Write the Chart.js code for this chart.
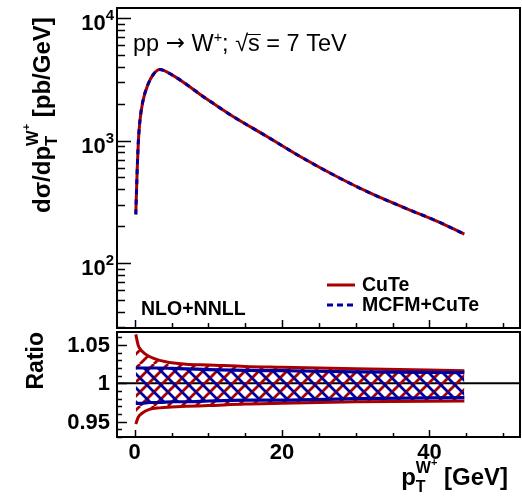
<!DOCTYPE html>
<html><head><meta charset="utf-8">
<script src="https://cdn.jsdelivr.net/npm/chart.js@4.4.0/dist/chart.umd.min.js"></script>
<style>html,body{margin:0;padding:0;background:#fff;}#wrap{position:relative;width:522px;height:504px;}canvas{position:absolute;left:0;top:0;}</style>
</head><body><div id="wrap"><canvas id="topc" width="522" height="504"></canvas><canvas id="botc" width="522" height="504"></canvas></div>
<script>
// ---- data ----
const pT        = [0.15, 0.35, 0.5, 0.7, 1.1, 1.8, 2.5, 3.4, 5, 7.7, 8.8, 11, 13.3, 17.9, 22.4, 27.8, 32.3, 36.8, 41.4, 44.75];
const cuteXsec  = [250, 600, 990, 1430, 2080, 2870, 3450, 3800, 3460, 2690, 2400, 1950, 1580, 1085, 745, 495, 365, 280, 215, 172];
const mcfmXsec  = [250, 600, 990, 1430, 2080, 2870, 3450, 3800, 3460, 2690, 2400, 1950, 1580, 1085, 745, 495, 365, 280, 215, 172];
const ratioPT   = [0.15, 0.5, 1, 2, 3.4, 5, 7, 10, 15, 20, 30, 44.75];
const cuteUp    = [1.064, 1.049, 1.042, 1.035, 1.030, 1.027, 1.025, 1.024, 1.022, 1.021, 1.019, 1.0165];
const cuteLow   = [0.947, 0.956, 0.961, 0.966, 0.968, 0.969, 0.970, 0.971, 0.973, 0.974, 0.976, 0.977];
const mcfmUp    = [1.020, 1.020, 1.020, 1.020, 1.020, 1.0195, 1.019, 1.018, 1.017, 1.0165, 1.015, 1.014];
const mcfmLow   = [0.974, 0.974, 0.974, 0.975, 0.975, 0.976, 0.976, 0.977, 0.978, 0.978, 0.980, 0.9815];
const logTickExponents = [2, 3, 4];
const ratioTickLabels  = ['0.95', '1', '1.05'];
const xTickLabels      = ['0', '20', '40'];
const seriesNames      = ['CuTe', 'MCFM+CuTe'];

const RED = '#a80000', BLUE = '#0000a0';
const FF = '"Liberation Sans", Arial, Helvetica, sans-serif';
function font(s, b, ff){ return (b ? 'bold ' : '') + s + 'px ' + (ff || FF); }

function hatch(color, dir, sp, lw){
  const c = document.createElement('canvas'); c.width = sp; c.height = sp;
  const g = c.getContext('2d'); g.strokeStyle = color; g.lineWidth = lw; g.beginPath();
  for (let k = -1; k <= 1; k++){
    if (dir > 0){ g.moveTo(k*sp, sp); g.lineTo(k*sp+sp, 0); }
    else { g.moveTo(k*sp, 0); g.lineTo(k*sp+sp, sp); }
  }
  g.stroke();
  return g.createPattern(c, 'repeat');
}

function richWidth(ctx, parts){
  let w = 0; for (const p of parts){ ctx.font = font(p.s, p.b !== false, p.ff); if (!p.noAdv) w += ctx.measureText(p.t).width; } return w;
}
function drawRich(ctx, x, y, parts){
  let cx = x; const pos = [];
  for (const p of parts){
    ctx.font = font(p.s, p.b !== false, p.ff);
    ctx.fillText(p.t, cx, y + (p.dy || 0));
    const w = ctx.measureText(p.t).width;
    pos.push([cx, cx + w]);
    if (!p.noAdv) cx += w;
  }
  return pos;
}

const topPlugin = {
  id: 'topDeco',
  afterDraw(chart){
    const ctx = chart.ctx, a = chart.chartArea, xs = chart.scales.x, ys = chart.scales.y;
    ctx.save();
    ctx.strokeStyle = '#000'; ctx.fillStyle = '#000';
    ctx.lineWidth = 1.5; ctx.beginPath();
    for (let d = 1; d <= 4; d++) for (let m = 1; m <= 9; m++){
      const v = m * Math.pow(10, d); if (v < ys.min || v > ys.max) continue;
      const py = Math.round(ys.getPixelForValue(v)) + 0.5;
      ctx.moveTo(a.left, py); ctx.lineTo(a.left + (m === 1 ? 14 : 8), py);
    }
    for (let v = 0; v <= 50; v += 5){
      const px = Math.round(xs.getPixelForValue(v)) + 0.5;
      ctx.moveTo(px, a.bottom); ctx.lineTo(px, a.bottom - (v % 20 === 0 ? 8 : 5));
    }
    ctx.stroke();
    ctx.lineWidth = 2; ctx.strokeRect(a.left, a.top, a.right - a.left, a.bottom - a.top);
    ctx.textBaseline = 'alphabetic'; ctx.textAlign = 'left';
    for (const e of logTickExponents){
      const py = ys.getPixelForValue(Math.pow(10, e));
      const parts = [{t:'10', s:22}, {t:String(e), s:15, dy:-10}];
      const w = richWidth(ctx, parts);
      drawRich(ctx, 114 - w, py + 12, parts);
    }
    ctx.save(); ctx.translate(50, 213); ctx.rotate(-Math.PI/2);
    drawRich(ctx, 0, 0, [{t:'d\u03C3/dp', s:24}, {t:'T', s:16.5, dy:7, noAdv:true}, {t:'W', s:16.5, dy:-12.5}, {t:'+', s:11, dy:-20}, {t:' [pb/GeV]', s:24}]);
    ctx.restore();
    const pos = drawRich(ctx, 133, 51, [
      {t:'pp ', s:23.5, b:false}, {t:'\u2192', s:23, b:false, ff:'"DejaVu Sans", sans-serif', dy:-1},
      {t:' W', s:23.5, b:false}, {t:'+', s:14.5, b:false, dy:-9.5}, {t:'; \u221A', s:23.5, b:false}, {t:'s', s:23.5, b:false}, {t:' = 7 TeV', s:23.5, b:false}]);
    ctx.lineWidth = 1; ctx.beginPath(); ctx.moveTo(pos[4][1] - 1, 34.5); ctx.lineTo(pos[5][1] + 1, 34.5); ctx.stroke();
    ctx.font = font(19.5, true); ctx.fillText('NLO+NNLL', 141, 315);
    ctx.lineWidth = 3; ctx.strokeStyle = RED; ctx.beginPath(); ctx.moveTo(327, 285); ctx.lineTo(355, 285); ctx.stroke();
    ctx.strokeStyle = BLUE; ctx.setLineDash([6, 4]); ctx.beginPath(); ctx.moveTo(327, 305); ctx.lineTo(357, 305); ctx.stroke(); ctx.setLineDash([]);
    ctx.font = font(19.5, true); ctx.fillStyle = '#000';
    ctx.fillText(seriesNames[0], 362, 291); ctx.fillText(seriesNames[1], 362, 311);
    ctx.restore();
  }
};

const botPlugin = {
  id: 'botDeco',
  beforeDatasetsDraw(chart){
    const ctx = chart.ctx, a = chart.chartArea, ys = chart.scales.y;
    ctx.save(); ctx.strokeStyle = '#000'; ctx.lineWidth = 2;
    const py = ys.getPixelForValue(1);
    ctx.beginPath(); ctx.moveTo(a.left, py); ctx.lineTo(a.right, py); ctx.stroke(); ctx.restore();
  },
  afterDraw(chart){
    const ctx = chart.ctx, a = chart.chartArea, xs = chart.scales.x, ys = chart.scales.y;
    ctx.save(); ctx.strokeStyle = '#000'; ctx.fillStyle = '#000';
    ctx.lineWidth = 1.5; ctx.beginPath();
    for (let i = 93; i <= 106; i++){
      const v = i / 100; const py = Math.round(ys.getPixelForValue(v)) + 0.5;
      ctx.moveTo(a.left, py); ctx.lineTo(a.left + (i % 5 === 0 ? 10 : 5), py);
    }
    for (let v = 0; v <= 50; v += 5){
      const px = Math.round(xs.getPixelForValue(v)) + 0.5;
      ctx.moveTo(px, a.bottom); ctx.lineTo(px, a.bottom - (v % 20 === 0 ? 7 : 4));
    }
    ctx.stroke();
    ctx.lineWidth = 2; ctx.strokeRect(a.left, a.top, a.right - a.left, a.bottom - a.top);
    ctx.font = font(22, true); ctx.textAlign = 'right'; ctx.textBaseline = 'middle';
    const yv = [0.95, 1, 1.05];
    yv.forEach((v, i) => ctx.fillText(ratioTickLabels[i], 110, ys.getPixelForValue(v) + 1));
    ctx.textAlign = 'center'; ctx.textBaseline = 'top';
    [0, 20, 40].forEach((v, i) => ctx.fillText(xTickLabels[i], xs.getPixelForValue(v), 442));
    ctx.textAlign = 'left'; ctx.textBaseline = 'alphabetic';
    const xt = [{t:'p', s:24}, {t:'T', s:16, dy:7, noAdv:true}, {t:'W', s:16, dy:-12}, {t:'+', s:11, dy:-19}, {t:' [GeV]', s:24}];
    drawRich(ctx, 508 - richWidth(ctx, xt), 485, xt);
    ctx.save(); ctx.translate(43, 332); ctx.rotate(-Math.PI/2);
    ctx.font = font(23, true); ctx.textAlign = 'right'; ctx.fillText('Ratio', 0, 0);
    ctx.restore();
    ctx.restore();
  }
};

const common = { animation: false, responsive: false, devicePixelRatio: 1,
  plugins: { legend: { display: false }, tooltip: { enabled: false } } };

new Chart(document.getElementById('topc'), {
  type: 'line',
  data: { datasets: [
    { label: seriesNames[0], data: pT.map((x, i) => ({x, y: cuteXsec[i]})), borderColor: RED, borderWidth: 3, pointRadius: 0, cubicInterpolationMode: 'monotone', order: 2, fill: false },
    { label: seriesNames[1], data: pT.map((x, i) => ({x, y: mcfmXsec[i]})), borderColor: BLUE, borderWidth: 3, borderDash: [5, 5], pointRadius: 0, cubicInterpolationMode: 'monotone', order: 1, fill: false }
  ]},
  options: Object.assign({}, common, {
    layout: { padding: { left: 117, right: 2, top: 8, bottom: 176 } },
    scales: {
      x: { type: 'linear', min: -2.4, max: 52.3, display: false },
      y: { type: 'logarithmic', min: 29.5, max: 12100, display: false }
    }
  }),
  plugins: [topPlugin]
});

new Chart(document.getElementById('botc'), {
  type: 'line',
  data: { datasets: [
    { label: 'CuTe up', data: ratioPT.map((x, i) => ({x, y: cuteUp[i]})), borderColor: RED, borderWidth: 3, pointRadius: 0, cubicInterpolationMode: 'monotone', fill: '+1', backgroundColor: hatch(RED, 1, 14, 2.8), order: 2 },
    { label: 'CuTe low', data: ratioPT.map((x, i) => ({x, y: cuteLow[i]})), borderColor: RED, borderWidth: 3, pointRadius: 0, cubicInterpolationMode: 'monotone', fill: false, order: 2 },
    { label: 'MCFM up', data: ratioPT.map((x, i) => ({x, y: mcfmUp[i]})), borderColor: BLUE, borderWidth: 3.2, pointRadius: 0, cubicInterpolationMode: 'monotone', fill: '+1', backgroundColor: hatch(BLUE, -1, 14, 2.8), order: 1 },
    { label: 'MCFM low', data: ratioPT.map((x, i) => ({x, y: mcfmLow[i]})), borderColor: BLUE, borderWidth: 3.2, pointRadius: 0, cubicInterpolationMode: 'monotone', fill: false, order: 1 }
  ]},
  options: Object.assign({}, common, {
    layout: { padding: { left: 117, right: 2, top: 332, bottom: 67 } },
    scales: {
      x: { type: 'linear', min: -2.4, max: 52.3, display: false },
      y: { type: 'linear', min: 0.93, max: 1.067, display: false }
    }
  }),
  plugins: [botPlugin]
});
</script></body></html>
